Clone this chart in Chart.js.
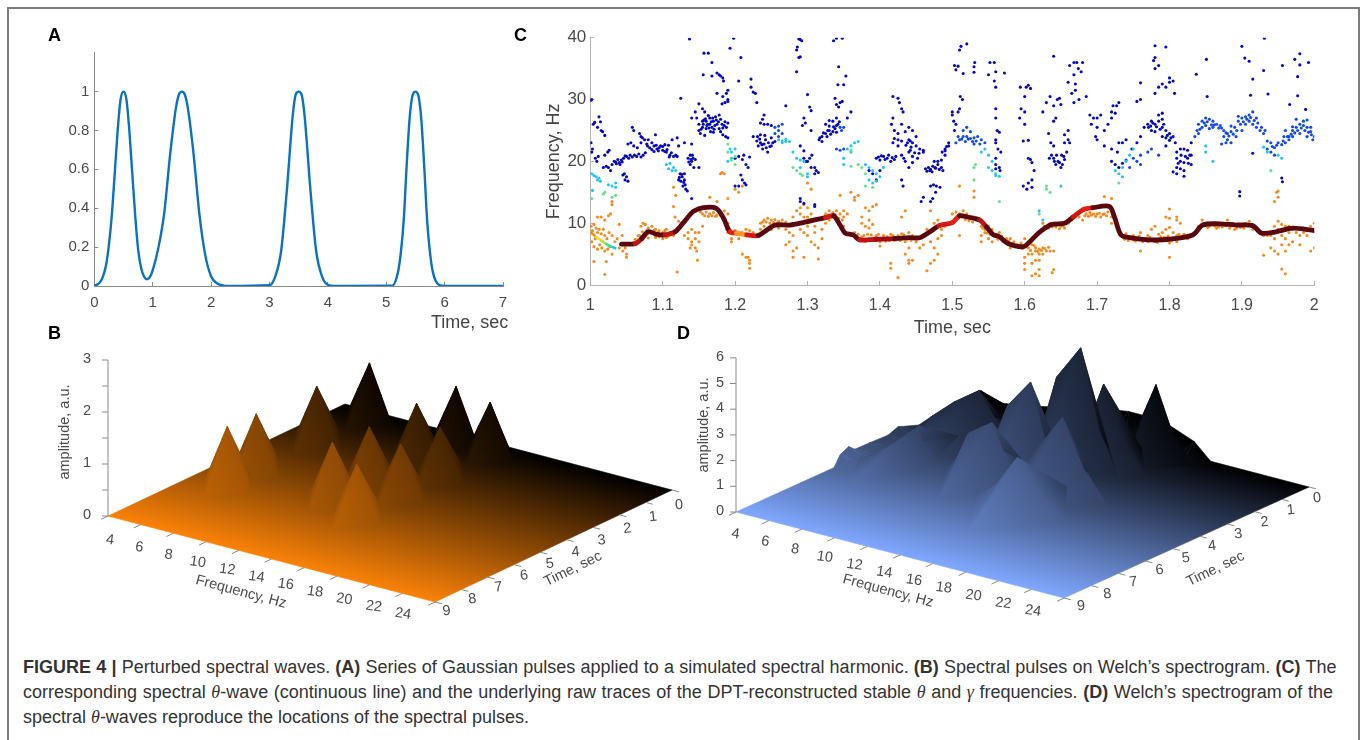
<!DOCTYPE html>
<html><head><meta charset="utf-8">
<script src="https://cdn.jsdelivr.net/npm/chart.js@4"></script>
<style>
html,body{margin:0;padding:0;background:#fff;width:1360px;height:740px;overflow:hidden}
canvas{position:absolute;display:block}
.frame{position:absolute;background:#7d7d7d}
.lab{position:absolute;font:bold 18px "Liberation Sans",Arial,sans-serif;color:#000;line-height:20px}
.cap{position:absolute;left:23px;font:18px "Liberation Sans",Arial,sans-serif;color:#333;white-space:nowrap;line-height:20px}
.cap i{font-family:"Liberation Serif",serif}
.ttl{position:absolute;font:18px "Liberation Sans",Arial,sans-serif;color:#444;white-space:nowrap;line-height:20px}
</style></head><body>
<div class="frame" style="left:7px;top:7px;width:1352px;height:1.5px"></div>
<div class="frame" style="left:7px;top:7px;width:1.5px;height:733px"></div>
<div class="frame" style="left:1358px;top:7px;width:1.5px;height:733px"></div>
<canvas id="a" style="left:40px;top:40px" width="480" height="300"></canvas>
<canvas id="c" style="left:530px;top:20px" width="810" height="320"></canvas>
<canvas id="b" style="left:40px;top:340px" width="660" height="300"></canvas>
<canvas id="d" style="left:680px;top:340px" width="660" height="300"></canvas>
<div class="lab" style="left:48px;top:25px">A</div>
<div class="lab" style="left:48px;top:323px">B</div>
<div class="lab" style="left:514px;top:25px">C</div>
<div class="lab" style="left:677px;top:323px">D</div>
<div class="ttl" style="left:431px;top:312px">Time, sec</div>
<div class="cap" style="top:657px;word-spacing:.2px"><b>FIGURE 4 |</b> Perturbed spectral waves. <b>(A)</b> Series of Gaussian pulses applied to a simulated spectral harmonic. <b>(B)</b> Spectral pulses on Welch’s spectrogram. <b>(C)</b> The</div>
<div class="cap" style="top:682px;word-spacing:.6px">corresponding spectral <i>θ</i>-wave (continuous line) and the underlying raw traces of the DPT-reconstructed stable <i>θ</i> and <i>γ</i> frequencies. <b>(D)</b> Welch’s spectrogram of the</div>
<div class="cap" style="top:707px">spectral <i>θ</i>-waves reproduce the locations of the spectral pulses.</div>
<script>
// ---------- Panel A ----------
const pulseTime=[0,.05,.1,.15,.2,.25,.3,.35,.4,.45,.5,.55,.6,.65,.7,.75,.8,.85,.9,.95,1,1.1,1.2,1.3,1.4,1.45,1.5,1.55,1.6,1.7,1.8,1.9,2,2.1,2.2,2.3,3,3.1,3.2,3.3,3.4,3.45,3.5,3.55,3.6,3.7,3.8,3.9,4,4.1,5.1,5.2,5.25,5.3,5.35,5.4,5.45,5.5,5.55,5.6,5.65,5.7,5.75,5.8,5.9,6,7];
const pulseAmp=[.003,.007,.02,.05,.105,.21,.365,.58,.8,.96,1,.96,.8,.58,.365,.19,.095,.05,.035,.045,.08,.2,.38,.68,.92,.985,1,.985,.92,.68,.37,.16,.05,.014,.003,0,.004,.05,.18,.5,.88,.985,1,.985,.88,.5,.18,.05,.006,0,.001,.07,.17,.34,.62,.86,.98,1,.98,.86,.62,.34,.17,.07,.006,0,0];
// ---------- Panel C ----------
const thetaOnsetT=[1,1.007,1.014,1.021,1.029,1.036];
const thetaOnsetF=[8.6,7.9,7.3,6.7,6.2,5.9];
const thetaOnsetS=[.72,.6,.5,.42,.34,.28];
const thetaT=[1.043,1.062,1.071,1.08,1.092,1.103,1.117,1.128,1.135,1.142,1.156,1.174,1.184,1.193,1.202,1.216,1.232,1.244,1.255,1.276,1.294,1.313,1.325,1.336,1.345,1.352,1.363,1.372,1.395,1.42,1.441,1.455,1.469,1.482,1.5,1.51,1.521,1.538,1.547,1.556,1.565,1.577,1.598,1.607,1.621,1.637,1.655,1.667,1.681,1.694,1.717,1.724,1.733,1.745,1.773,1.8,1.832,1.846,1.869,1.892,1.915,1.927,1.947,1.97,2];
const thetaF=[6.6,6.7,7.5,8.6,8.2,8.1,8.6,10,11,11.9,12.5,12.4,10.8,8.6,8.4,8.1,8,8.9,9.7,9.7,10.1,10.6,10.9,11.2,9.7,8.4,8.1,7.3,7.4,7.5,7.65,7.65,8.6,9.6,10.1,11.2,11,10.5,9.4,8.2,7.8,6.7,6.2,7,8.6,9.8,10,11,12.2,12.5,12.7,11,8.1,7.65,7.3,7.4,8.1,9.7,9.9,9.7,9.6,8.4,8.6,9.2,8.8];
const thetaS=[1,.92,1,1,1,.92,1,1,1,1,1,1,1,.88,.8,.9,1,1,1,1,1,1,.9,1,1,1,1,.92,.95,1,1,1,1,.9,.88,1,1,.92,1,1,1,1,1,1,1,1,1,.9,.88,1,1,1,1,1,1,1,1,1,1,1,1,1,1,1,1];
const gammaDeep=[1.001,23,1.003,22,1.002,21.5,1.004,26,1.006,26.3,1.01,25.5,1.012,27.2,1.014,26.4,1.015,25,1.017,24.8,1.02,24.2,1.007,20.5,1.009,20,1.011,20.8,1.001,29.9,1.002,30,1.02,21,1.024,21.5,1.026,21.8,1.018,19,1.022,19.2,1.025,19,1.028,18.5,1.03,19.5,1.033,20,1.036,19.6,1.04,19.8,1.043,20.2,1.046,20.5,1.05,20.8,1.053,20.5,1.045,17.8,1.048,17,1.05,17.5,1.047,18,1.052,16.8,1.058,25.5,1.06,25,1.068,24.5,1.07,24,1.072,23.8,1.052,22.8,1.056,23,1.06,22.5,1.065,22.2,1.07,23,1.075,23.5,1.078,22.8,1.08,23.5,1.085,23,1.09,24.3,1.088,22.5,1.092,22,1.095,22.2,1.1,21.8,1.103,22.7,1.108,22.6,1.105,21.5,1.11,21,1.115,20.8,1.118,21,1.113,23.5,1.12,23.8,1.12,20.8,1.122,17,1.125,16.8,1.127,17.5,1.13,17,1.128,16,1.132,15.5,1.134,15.2,1.13,18,1.124,18,1.135,20.5,1.138,21,1.14,20,1.142,20.5,1.138,19.5,1.143,19,1.145,20.3,1.15,19,1.122,22.5,1.13,23,1.14,22.8,1.14,14,1.125,30.2,1.137,39.8,1.198,39.9,1.208,36.8,1.157,37.5,1.163,37.5,1.168,36,1.156,34,1.168,33.8,1.175,34.3,1.178,34,1.18,33.8,1.183,33.5,1.184,33,1.175,31,1.183,30.5,1.188,31,1.19,30,1.186,29.5,1.182,29.3,1.19,29.7,1.19,31.5,1.193,38.3,1.205,33,1.222,33.3,1.222,32,1.225,31.2,1.228,31,1.23,29.5,1.15,29.3,1.155,28.5,1.158,28,1.145,28,1.14,27,1.147,27,1.155,26.5,1.15,26,1.15,25,1.152,24.5,1.155,25.5,1.158,24.2,1.16,26.5,1.162,26,1.165,27,1.165,26,1.168,25.5,1.17,26.5,1.172,25.8,1.175,26,1.178,25.3,1.18,26.8,1.182,26,1.185,25.8,1.188,25.5,1.19,26.2,1.16,25.3,1.166,24.8,1.17,24.7,1.173,27.2,1.163,27.4,1.157,26.7,1.178,27.5,1.18,24.8,1.183,24.3,1.187,24,1.19,23.8,1.2,20.5,1.205,20.8,1.21,20.3,1.212,21,1.215,19.5,1.218,19,1.22,20.7,1.208,17.8,1.21,17,1.213,16.5,1.205,16,1.215,16.2,1.2,16,1.225,24,1.23,23.3,1.235,23,1.232,22.5,1.238,22,1.24,22.8,1.242,23.5,1.235,24.3,1.245,21.5,1.25,22.5,1.255,23.2,1.25,23.8,1.24,27.5,1.238,26.8,1.235,26.2,1.24,26,1.245,26,1.25,25.8,1.27,29,1.288,39.8,1.29,39.7,1.292,39.5,1.286,38.5,1.285,38,1.288,36.8,1.29,36.9,1.285,34.5,1.3,30.8,1.303,28.8,1.305,28.2,1.295,27,1.297,26.2,1.293,25.8,1.305,25,1.29,22.5,1.295,21.7,1.295,20.5,1.298,20,1.3,20,1.303,20.5,1.306,21,1.305,19,1.31,19,1.312,18.5,1.315,18.2,1.31,18,1.29,14,1.29,13.5,1.295,13.2,1.31,13,1.31,12.7,1.316,23.5,1.32,24,1.32,23.2,1.325,24.5,1.327,24,1.33,25,1.33,25.7,1.335,24.8,1.338,25.3,1.34,25.8,1.342,26,1.335,26.5,1.34,27,1.325,26,1.33,26.6,1.34,29.2,1.345,29.5,1.348,29.7,1.343,28.8,1.338,30.2,1.342,32.4,1.35,32.4,1.353,33.8,1.343,35.3,1.336,39.5,1.34,39.9,1.348,39.9,1.36,28,1.355,27,1.395,20.5,1.4,20.2,1.405,20.8,1.41,20.5,1.415,20,1.42,20.3,1.418,23,1.42,23.7,1.425,23.5,1.43,23.3,1.425,22.5,1.43,21,1.433,20.5,1.435,20,1.44,21.5,1.44,23.5,1.445,23,1.45,22.5,1.455,22,1.46,21.8,1.443,22.3,1.418,30.5,1.425,30.2,1.427,29.5,1.43,28.5,1.432,28,1.418,27,1.416,26,1.42,25,1.43,26,1.44,25.5,1.445,25,1.45,24,1.425,24.5,1.435,24.8,1.43,17,1.432,16,1.395,17,1.39,18,1.385,18.5,1.4,18.5,1.442,21.8,1.445,20.8,1.445,19.8,1.44,19,1.452,20.5,1.46,21.5,1.463,18.8,1.467,19,1.47,18.7,1.472,18.3,1.476,19,1.48,19.5,1.485,19,1.475,20,1.48,20,1.485,20.2,1.486,21.5,1.49,22,1.49,21.7,1.495,22.5,1.495,23,1.487,18.5,1.47,16,1.474,16.2,1.478,16,1.483,15.8,1.457,13.5,1.46,14.2,1.477,15,1.473,14,1.47,13.5,1.512,38.6,1.52,39,1.51,38,1.503,35.5,1.508,35.4,1.505,34.8,1.515,34.2,1.53,34.4,1.53,35.3,1.531,36,1.55,34,1.552,36,1.558,36,1.56,34.5,1.558,33,1.572,34.3,1.56,32,1.511,30.5,1.514,30,1.5,28,1.502,26.5,1.505,26,1.508,28,1.51,28.5,1.5,27.5,1.503,25,1.56,28.5,1.56,27,1.565,24.7,1.562,25,1.56,23.5,1.56,23,1.563,22,1.567,21.5,1.56,20.5,1.56,19.5,1.565,19,1.566,18.5,1.56,18.8,1.594,32,1.6,30.5,1.602,32,1.605,32.3,1.608,31.8,1.595,28.5,1.6,28,1.593,27,1.6,26,1.598,23.3,1.605,23.4,1.605,20.5,1.608,20.3,1.61,19.8,1.598,16,1.605,16.5,1.61,17,1.603,15.5,1.61,15.8,1.613,18.5,1.63,29.5,1.635,30.5,1.64,29,1.645,30,1.648,30.2,1.65,29.2,1.643,27,1.64,26.5,1.625,28,1.633,24.5,1.636,23,1.634,20.5,1.637,21,1.64,20.5,1.643,19.5,1.646,20,1.65,19,1.652,19.5,1.655,20.3,1.658,21.5,1.655,23,1.66,23.5,1.662,23,1.655,24.3,1.64,22.5,1.66,25,1.665,31,1.67,31.5,1.675,30,1.668,29.5,1.668,36,1.672,36,1.674,35,1.668,34,1.678,34.5,1.68,36,1.685,30.5,1.67,32.5,1.66,32.8,1.662,35.5,1.64,37,1.69,27.5,1.695,27,1.7,27,1.705,27.5,1.692,26,1.7,25.5,1.71,25,1.715,26,1.72,27,1.725,27.8,1.727,29,1.73,29.5,1.72,28,1.722,29,1.698,24,1.7,23.5,1.71,22.5,1.72,22,1.73,23,1.735,23,1.74,23.5,1.728,21.5,1.725,19.5,1.73,19,1.72,20,1.735,19.7,1.755,23,1.748,22,1.76,24,1.765,25.5,1.77,26,1.775,26.5,1.78,26,1.785,26.5,1.79,25.5,1.795,25,1.8,24.5,1.805,24,1.785,27.5,1.79,26.8,1.775,25,1.78,24.8,1.79,24,1.795,23.8,1.8,23.4,1.795,22.5,1.808,23,1.755,29.7,1.76,30,1.795,32,1.78,31,1.785,32,1.79,32.5,1.8,33.5,1.8,32.8,1.805,33,1.78,35,1.778,36.3,1.78,36.8,1.785,35.5,1.78,38.7,1.795,38.5,1.807,31,1.79,27.8,1.76,32.7,1.81,21.5,1.815,22,1.82,22,1.825,21.8,1.81,20.5,1.815,20,1.82,19.8,1.825,20.5,1.828,21,1.83,19.5,1.82,18.5,1.815,18.8,1.81,19,1.805,18.3,1.81,18,1.82,17.6,1.83,23,1.83,21,1.931,39.9,1.9,38.6,1.904,36.7,1.91,36.2,1.93,34.7,1.956,35.5,1.973,36.5,1.98,37.4,1.992,36,1.98,35.6,1.977,33.7,1.915,33.3,1.936,30.9,1.912,30.7,1.977,30.6,1.966,29.2,1.988,28.4,1.851,36.5,1.837,34.1,1.852,30.5,1.897,15.1,1.897,14.4,1.915,21.3,1.955,17.3,1.956,16.7,
1.035,19.9,1.038,20.3,1.041,19.5,1.044,19.9,1.048,20.9,1.055,21,1.058,20.7,1.061,21,1.064,20.8,1.067,21.2,1.07,20.7,1.073,21,1.076,21.4,1.079,22.5,1.082,22.2,1.085,21.9,1.088,21.6,1.091,22.6,1.094,21.7,1.097,22.5,1.1,22.4,1.103,21.6,1.106,21.9,1.109,20.7,1.112,21.4,1.123,17.4,1.126,17.9,1.129,16.6,1.131,16.2,1.136,19.9,1.139,20.3,1.141,21,1.153,25.2,1.156,26,1.159,26.9,1.161,25.8,1.164,25.4,1.167,26.4,1.169,27,1.171,25.2,1.174,26.7,1.177,26.4,1.183,25.4,1.186,26.4,1.231,24,1.234,23.6,1.237,22.7,1.241,24.2,1.243,22.2,1.246,23,1.248,22.4,1.252,23,1.317,23.8,1.322,24.6,1.328,25,1.332,24.4,1.336,25.6,1.34,24.7,1.344,26.4,1.398,20.7,1.402,20.9,1.407,20.3,1.412,21,1.417,20.6,1.422,20.8,1.436,22.6,1.438,23,1.442,23.3,1.448,21.4,1.454,21.3,1.465,18.4,1.469,18.5,1.473,19.2,1.477,18.9,1.482,18.7,1.49,21,1.492,22.4,1.641,20,1.644,21,1.648,19.8,1.651,21,1.654,20.8,1.771,25.5,1.774,25.7,1.777,26.2,1.782,25.6,1.787,25.2,1.792,26,1.797,24.2,1.802,23.8,1.816,21,1.822,20.8,1.826,19.7,1.812,19.7];
const gammaBright=[1.255,24.5,1.26,25,1.26,24,1.265,24.5,1.255,25.5,1.26,25.7,1.265,26,1.345,25.5,1.347,25,1.35,25.5,1.34,22,1.345,21.8,1.35,22,1.505,23,1.51,23.5,1.515,24,1.52,24,1.525,23.7,1.53,23.8,1.535,24,1.54,23.5,1.545,23,1.515,25,1.52,25.5,1.525,24.8,1.53,22.8,1.74,20.2,1.745,19,1.75,20.5,1.755,20,1.76,19.5,1.76,21,1.77,21.5,1.775,22,1.785,21,1.835,24,1.838,25,1.84,26,1.845,26.5,1.85,27,1.855,26.8,1.86,26.5,1.84,24.5,1.845,25.5,1.85,25.8,1.855,25.3,1.86,25.5,1.865,26,1.87,25.8,1.875,25,1.88,24.5,1.885,24.8,1.875,24,1.88,23.5,1.885,23,1.872,22.8,1.878,23,1.89,25.5,1.895,26.5,1.9,27,1.905,27.2,1.91,27.5,1.915,28,1.895,27.3,1.905,26,1.91,26.5,1.915,26,1.92,25.5,1.925,25,1.93,24.5,1.9,25,1.892,24,1.885,25.7,1.92,27,1.965,24,1.97,25,1.975,25.5,1.98,26,1.985,25.8,1.99,25.5,1.995,24.8,2,24,1.998,23.5,1.96,23,1.965,23.5,1.97,24,1.955,22.7,1.95,23,1.945,22.2,1.975,26.8,1.985,26.5,1.99,26.7,1.995,25.5,1.98,24.5,1.99,24,1.96,25,1.958,24,1.935,22,1.94,21.5,1.945,21,1.94,23,1.935,23.3,
1.842,25.2,1.848,26.2,1.852,26.4,1.858,25.9,1.862,25.9,1.868,25.4,1.872,25.4,1.878,24.6,1.882,24.1,1.888,24.4,1.893,25,1.898,26,1.902,26.4,1.907,26.8,1.912,27.1,1.917,26.6,1.922,26.2,1.927,25.5,1.932,25,1.97,25.6,1.973,24.6,1.977,25,1.982,25.4,1.987,25,1.992,24.7,1.996,24.3,1.968,24.4,1.963,24,1.957,23.3,1.948,22.6,1.942,22.4,1.508,24,1.513,23.6,1.518,23.2,1.522,23.6,1.528,23.2,1.533,23.3,1.538,22.8];
const gammaCyan=[1.002,18,1.005,17.7,1.008,17.5,1.01,17,1.012,17.3,1.014,16.8,1.03,16,1.035,16.5,1.035,15.8,1.003,15.3,1.025,16.2,1.105,19.5,1.108,18.8,1.11,19.7,1.113,18.5,1.115,19,1.118,18.5,1.19,20,1.193,22,1.195,21.5,1.2,22,1.195,20.5,1.26,23.5,1.265,23.3,1.27,23.2,1.265,23,1.27,23.6,1.275,23.2,1.28,21.5,1.285,20.5,1.29,20.2,1.295,20,1.29,19,1.3,18,1.3,17.5,1.355,22,1.36,22.5,1.365,23,1.37,23.2,1.36,21.5,1.35,20.5,1.35,19.5,1.38,19.5,1.385,19,1.39,18.5,1.395,18,1.4,17.5,1.385,17,1.39,16.5,1.395,16.8,1.405,19,1.54,21.5,1.545,22,1.55,21,1.555,20,1.55,19,1.555,18.5,1.56,18,1.56,17.7,1.565,17.6,1.65,16,1.62,12,1.625,10.5,1.725,18.5,1.73,18,1.735,19,1.74,20,1.745,21,1.75,22,1.735,17.5,1.93,22.3,1.935,21.5,1.95,21,1.955,20.5,1.85,22.5,1.85,21.5,1.86,20];
const gammaGreen=[1.02,15,1.018,14.7,1.03,14.2,1.035,14.5,1.002,14,1.19,21.5,1.19,22.8,1.195,20.2,1.2,19.5,1.2,20.8,1.285,18.5,1.28,19,1.29,18,1.293,17.7,1.36,21.8,1.36,19.2,1.37,19.5,1.375,19,1.38,18,1.39,15.8,1.38,16,1.53,19,1.532,19.5,1.53,17,1.63,15.5,1.635,15,1.63,16,1.565,13.5,1.73,16.5,1.94,18.5,1.62,11.5];
const thetaRaw=[1.001,9.5,1.003,8.8,1.005,9.8,1.008,9.2,1.01,8.5,1.012,9,1.015,8.3,1.018,9,1.02,8,1.023,7.5,1.026,8.5,1.03,8,1.034,7,1.037,7.5,1.04,9.8,1.002,7,1.005,6.2,1.007,7.5,1.01,5.8,1.013,6.5,1.016,6,1.02,5.5,1.024,5.8,1.027,6.2,1.03,5,1.022,3.8,1.02,10.5,1.025,11.2,1.028,11.5,1.03,13,1.03,13.5,1.015,11,1.01,11,1.005,3.8,1.02,1.7,1.04,6,1.045,5.5,1.05,4.5,1.05,5,1.048,6,1.044,8,1.068,8,1.07,9.5,1.073,10,1.076,9.8,1.08,9.2,1.085,9.5,1.09,9,1.095,8.8,1.1,8.5,1.105,9,1.11,8.5,1.07,7.5,1.075,7.8,1.08,7.6,1.09,7.7,1.095,7.8,1.1,7.5,1.105,7.7,1.115,8,1.12,9.2,1.122,10.3,1.12,2.1,1.115,15.8,1.118,14.5,1.115,12.7,1.117,11,1.13,8,1.135,8.5,1.14,9,1.145,8.5,1.135,7.5,1.14,7,1.145,7.5,1.14,6.5,1.145,6,1.147,5.5,1.138,6,1.15,7,1.148,4,1.15,8.5,1.155,9.5,1.15,12.5,1.155,11.5,1.16,11.8,1.165,11.5,1.17,11.7,1.175,11.3,1.18,11.5,1.185,12,1.19,10,1.19,11.5,1.188,9,1.165,14.2,1.175,13.5,1.19,14,1.185,18,1.18,18,1.182,18.2,1.2,15.5,1.205,15,1.21,16,1.195,7,1.195,7.5,1.19,8.5,1.2,8.8,1.21,8.5,1.215,9,1.22,8.8,1.225,8.5,1.205,7.5,1.21,5,1.215,4.5,1.22,4,1.22,3.5,1.22,2.7,1.218,4.5,1.235,10,1.24,10.5,1.24,9.5,1.245,10.8,1.25,10.5,1.255,10.6,1.26,10.3,1.265,10.5,1.27,10.2,1.235,9,1.25,9,1.26,9.2,1.27,9,1.275,8.5,1.28,8,1.27,6.5,1.275,7,1.28,5.5,1.285,6,1.28,4.5,1.285,12,1.29,12.5,1.295,13,1.3,12.5,1.29,11.5,1.295,11,1.3,11,1.305,11.5,1.28,11,1.285,10,1.29,9,1.295,8.5,1.3,8,1.305,7,1.3,9.5,1.31,8.5,1.31,9.5,1.32,9,1.315,6,1.315,4.2,1.295,4.5,1.305,15.5,1.3,16.5,1.31,6.5,1.32,7.5,1.325,11.5,1.33,12,1.335,11.7,1.34,12,1.345,11.5,1.35,11,1.35,12,1.355,11.5,1.325,10,1.33,10.5,1.345,14.5,1.35,9.5,1.36,8,1.365,8.5,1.37,8.2,1.375,7.8,1.38,7,1.385,7.5,1.39,7.2,1.395,8,1.4,7,1.405,8,1.41,7.8,1.415,8.2,1.42,7.2,1.425,8,1.43,8.3,1.435,7,1.44,8.5,1.445,8,1.375,10,1.38,9.5,1.385,9.2,1.39,9.8,1.38,12.5,1.385,12,1.39,12.7,1.395,13,1.375,11,1.385,10.5,1.36,15,1.365,14.2,1.37,14.5,1.365,13.7,1.4,6.3,1.415,3.5,1.415,2.7,1.44,3.5,1.435,5,1.44,4,1.44,6,1.43,11,1.435,12,1.425,1.2,1.45,7,1.46,8,1.465,9,1.47,8.5,1.475,10,1.48,10.5,1.485,9,1.49,9.5,1.455,6,1.46,6.5,1.47,7,1.475,6,1.48,7.5,1.485,8,1.48,5,1.475,4,1.47,3.5,1.465,2.3,1.445,4,1.47,12,1.5,11.5,1.505,11.8,1.51,11.5,1.515,12,1.52,11.5,1.525,11,1.53,11,1.535,10.5,1.54,9.5,1.545,9,1.55,9.5,1.555,9,1.54,8,1.545,8.5,1.55,7.5,1.555,7,1.56,8,1.565,8.5,1.57,7,1.575,7.5,1.58,7.5,1.585,7,1.59,6.5,1.595,6.8,1.6,7.5,1.58,6,1.54,7,1.53,15.2,1.53,14.2,1.51,8,1.51,16,1.605,6,1.61,6.5,1.615,6,1.62,5.8,1.625,6,1.63,5.5,1.635,5.5,1.605,5,1.61,5,1.615,5.5,1.62,5,1.625,5,1.6,4.5,1.6,3.5,1.6,2.5,1.61,3.5,1.615,4,1.62,4,1.615,1.8,1.62,2.5,1.62,1.5,1.61,1.5,1.64,2.5,1.638,2,1.64,5.5,1.625,10,1.63,9.5,1.635,10,1.64,10,1.645,9.7,1.65,9.5,1.655,9.2,1.66,10,1.665,10.5,1.67,11,1.675,11,1.68,10.5,1.685,11.5,1.69,11.7,1.695,11.5,1.7,11.5,1.705,11,1.71,11.5,1.715,11.8,1.72,11,1.72,10,1.725,10.5,1.71,14.3,1.72,14,1.735,7.8,1.74,8.3,1.745,7.5,1.75,7.3,1.76,7.5,1.77,7,1.78,7,1.79,7.2,1.8,6.8,1.81,7,1.75,8,1.76,8.5,1.77,8,1.775,9,1.78,9.5,1.785,8.2,1.79,8.5,1.795,9,1.8,9.3,1.805,8.5,1.81,8,1.815,10,1.81,11,1.81,10.5,1.8,10.8,1.82,8.2,1.825,7.5,1.83,8,1.835,8.5,1.76,5.5,1.8,12.3,1.8,4.5,1.795,11,1.84,9.5,1.845,10.5,1.85,10,1.855,9.5,1.86,10,1.865,9.2,1.87,9.7,1.875,10,1.88,10.5,1.885,9.5,1.89,9,1.895,10,1.9,9.5,1.905,10,1.91,10.3,1.915,9,1.92,9,1.93,8,1.935,8,1.94,8,1.945,7.5,1.95,9,1.955,8,1.96,7.5,1.965,8.5,1.945,9.5,1.95,10.3,1.955,9.8,1.96,9.5,1.965,9.5,1.97,9,1.975,8.5,1.98,8,1.985,8.5,1.99,8,1.995,9.5,2,10,1.94,6,1.945,5.5,1.955,6.5,1.96,5.5,1.965,6.5,1.97,7,1.95,5,1.93,4.8,1.945,13.5,1.948,15,1.95,15.2,1.95,14.2,1.955,2.6,1.96,1.8,1.995,5.5,2,6,1.98,6.5,
1.062,7.4,1.066,8,1.072,8.6,1.078,8.8,1.083,8.4,1.088,8.9,1.093,8.5,1.098,8.2,1.103,8.8,1.108,7.9,1.152,11.8,1.158,11.2,1.163,11.1,1.168,11.2,1.173,11.1,1.178,11.8,1.183,11,1.186,10.6,1.238,10.2,1.243,10.2,1.248,10,1.253,10.1,1.258,10,1.263,9.9,1.268,9.8,1.328,11.3,1.333,10.9,1.338,11.4,1.343,10.8,1.348,10.5,1.378,8,1.383,8.2,1.388,8.1,1.393,7.6,1.398,8.2,1.403,7.4,1.408,7.1,1.413,7.2,1.418,8,1.423,7.3,1.428,7.2,1.433,8.1,1.438,7.4,1.443,7.2,1.508,10.8,1.513,11,1.518,10.6,1.523,10.4,1.528,10.2,1.542,9.2,1.548,8.4,1.552,8.2,1.558,7.9,1.563,7.4,1.568,7.9,1.573,6.9,1.578,7.1,1.583,6.5,1.588,6.2,1.593,6.2,1.597,5.9,1.603,6.2,1.608,5.6,1.613,6.4,1.618,5.4,1.623,5.6,1.628,5.9,1.633,6.1,1.627,9.5,1.633,9.2,1.638,9.4,1.643,9.4,1.648,9.1,1.653,9.5,1.683,11.2,1.688,11.1,1.692,11.3,1.698,11.1,1.703,11.6,1.708,11.4,1.713,11.2,1.738,7.4,1.743,7.2,1.748,7.6,1.753,7.1,1.758,7.9,1.763,7,1.768,7.4,1.773,7.7,1.783,6.9,1.788,7.8,1.793,7.7,1.798,7.9,1.803,7.2,1.808,7.5,1.813,8.2,1.818,7.6,1.848,9.7,1.853,9.3,1.858,9.8,1.863,9.5,1.868,9.4,1.873,9.4,1.878,9.6,1.883,9.2,1.888,9.6,1.893,9.2,1.898,9.3,1.903,9.2,1.908,9.6];
// ---------- Panels B and D: spectral peaks on the (frequency, time) plane ----------
const freqTicks=[4,6,8,10,12,14,16,18,20,22,24];
const timeTicks=[0,1,2,3,4,5,6,7,8,9];
const bFreq=[6.3,6.3,6.3,6.3,11.6,11.6,11.6,11.6,14,14,14,14];
const bTime=[.5,2.5,4.8,5.9,.5,2,3.8,5.2,.7,2.6,4.1,5.76];
const bAmp=[1.1,1.13,1.15,1.17,1.09,1.12,1.1,1.14,1.03,1,1.04,1.04];
const bFreqWidth=[1.4,1.4,1.4,1.4,1.4,1.4,1.4,1.4,1.4,1.4,1.4,1.4];
const bTimeWidth=[.9,.9,.9,.9,.9,.9,.9,.9,.9,.9,.9,.9];
// D: each structure is a crest of (frequency, time, amplitude) vertices with its foot points
const dCrests=[
 [[15.5,.5,2.8]],
 [[14.3,1.7,3.2]],
 [[12.1,2.1,3.3],[13.4,2,4.6]],
 [[5.3,2.6,.85],[6.2,2.3,1.43],[7.2,2,1.9]],
 [[11.1,3.3,2.6],[12.4,3.24,3.7]],
 [[13.4,3.7,1.36],[15.1,3.7,3]],
 [[10,4.07,1.7],[11.3,4,2.3]],
 [[6,4.6,.75],[6.2,3.6,1.12]],
 [[14.6,5.05,2]]];
const dFootWest=[[13.3,.5],[12.3,1.7],[10.3,2.1],[4.2,2.8],[9.2,3.3],[11.8,3.7],[8.6,4.07],[4.2,4.6],[12,5.05]];
const dFootEast=[[17.6,.5],[16.8,1.7],[15.6,2],[9.8,2],[14.4,3.24],[17.9,3.7],[13.4,4],[7.6,4.1],[17.5,5.05]];
const dFootTime=[1.2,1.4,1.4,1.4,1.5,1.5,1.5,1.5,1.8];
const dEdgeTime=[5.4,5.18,4.87,4.64,4.11,3.42,3.05,2.28,1.84,.99,.07,0];
const dEdgeAmp=[0,.39,.56,.35,.34,.31,.46,.16,.27,.44,.44,.4];
const dBackFreq=[4,5,7,9,11,13,15,17,18];
const dBackAmp=[.4,.1,.3,.6,.9,1.1,1.1,.6,0];

Chart.defaults.animation=false;
Chart.defaults.font.family='"Liberation Sans",Arial,sans-serif';
const axisGrey='#8a8a8a', textGrey='#4a4a4a';
const pts=(xs,ys)=>xs.map((x,i)=>({x,y:ys[i]}));
const pairs=l=>{const o=[];for(let i=0;i<l.length;i+=2)o.push({x:l[i],y:l[i+1]});return o;};
const fixW=w=>s=>{s.width=w;s.paddingTop=0;s.paddingBottom=0;}, fixH=h=>s=>{s.height=h;};
const num=v=>+(+v).toFixed(1);

new Chart(document.getElementById('a'),{type:'scatter',data:{datasets:[{data:pts(pulseTime,pulseAmp),showLine:true,borderColor:'#0a72c2',borderWidth:2.4,pointRadius:0,tension:.35,cubicInterpolationMode:'monotone'}]},
options:{responsive:false,layout:{padding:{top:12.7,right:17,left:0,bottom:0}},plugins:{legend:{display:false},tooltip:{enabled:false}},
scales:{x:{type:'linear',min:0,max:7,afterFit:fixH(54),border:{color:axisGrey},grid:{drawOnChartArea:false,color:axisGrey,tickLength:-4},ticks:{stepSize:1,color:textGrey,padding:12,font:{size:15},maxRotation:0}},
y:{min:0,max:1.2,afterFit:fixW(54.3),border:{color:axisGrey},grid:{drawOnChartArea:false,color:axisGrey,tickLength:-4},ticks:{stepSize:.2,color:textGrey,padding:9,font:{size:15},callback:v=>v>1.001?null:num(v)}}}}});

const stabColor=s=>{ // colour ramp of the stability measure
  const st=[[.28,[30,110,240]],[.34,[30,200,235]],[.42,[60,225,150]],[.5,[170,230,60]],[.6,[240,225,40]],[.72,[245,140,30]],[.8,[250,150,40]],[.88,[230,30,20]],[.95,[160,12,18]],[1,[90,8,14]]];
  for(let i=1;i<st.length;i++) if(s<=st[i][0]){const[a,ca]=st[i-1],[b,cb]=st[i],k=(s-a)/(b-a);return `rgb(${ca.map((c,j)=>Math.round(c+(cb[j]-c)*k)).join(',')})`;}
  return 'rgb(90,8,14)';};
const dots=(l,c)=>({data:pairs(l),backgroundColor:c,borderWidth:0,pointRadius:1.55,showLine:false});
new Chart(document.getElementById('c'),{type:'scatter',data:{datasets:[
 {data:pts(thetaT,thetaF),showLine:true,borderWidth:4.8,pointRadius:0,tension:.3,borderCapStyle:'round',borderJoinStyle:'round',segment:{borderColor:x=>stabColor(thetaS[x.p0DataIndex])}},
 {data:pts(thetaOnsetT,thetaOnsetF),showLine:true,borderWidth:2.6,pointRadius:0,tension:.3,segment:{borderColor:x=>stabColor(thetaOnsetS[x.p0DataIndex])}},
 dots(gammaGreen,'#66e08a'),dots(gammaCyan,'#26c4f0'),dots(gammaBright,'#1248ee'),dots(gammaDeep,'#0408c4'),dots(thetaRaw,'#f58a20')]},
options:{responsive:false,layout:{padding:{top:17.7,right:25.7,left:0,bottom:0}},plugins:{legend:{display:false},tooltip:{enabled:false}},
scales:{x:{type:'linear',min:1,max:2,afterFit:fixH(55),border:{color:'#b5b5b5'},grid:{drawOnChartArea:false,color:'#b5b5b5',tickLength:-4},ticks:{stepSize:.1,autoSkip:false,color:textGrey,padding:15,font:{size:16},maxRotation:0,callback:num},title:{display:true,text:'Time, sec',color:'#444',font:{size:18},padding:{top:0,bottom:1}}},
y:{min:0,max:40,afterFit:fixW(60.3),border:{color:'#b5b5b5'},grid:{drawOnChartArea:false,color:'#b5b5b5',tickLength:-4},ticks:{stepSize:10,color:textGrey,padding:8,font:{size:17}},title:{display:true,text:'Frequency, Hz',color:'#444',font:{size:18},padding:{top:13,bottom:0}}}}}});

// ---------- 3D panels: each facet is a dataset of projected corners placed by the scales ----------
const geoOf={};
const facetPlugin={id:'facet',beforeDatasetDraw(chart,args){
  const ds=chart.data.datasets[args.index]; if(!ds.tvals) return;
  const c=chart.ctx, e=args.meta.data, o=geoOf[chart.canvas.id];
  const col=t=>{const k=Math.max(0,Math.min(1,t/9));return `rgb(${o.front.map(v=>Math.round(v*k)).join(',')})`;};
  const T=ds.tvals, a=e[1].x-e[0].x,b=e[1].y-e[0].y,p=e[2].x-e[0].x,q=e[2].y-e[0].y,u=T[1]-T[0],v=T[2]-T[0],det=a*q-b*p;
  let style=col(T[0]);
  if(Math.abs(det)>1e-6){const al=(u*q-v*b)/det,be=(a*v-p*u)/det,g=al*al+be*be;
    if(g>1e-9){const lo=Math.min(...T),hi=Math.max(...T);
      const gr=c.createLinearGradient(e[0].x+al*(lo-T[0])/g,e[0].y+be*(lo-T[0])/g,e[0].x+al*(hi-T[0])/g,e[0].y+be*(hi-T[0])/g);
      gr.addColorStop(0,col(lo));gr.addColorStop(1,col(hi));style=gr;}}
  c.save();c.beginPath();e.forEach((m,i)=>i?c.lineTo(m.x,m.y):c.moveTo(m.x,m.y));c.closePath();
  c.fillStyle=style;c.strokeStyle=style;c.lineWidth=.6;c.fill();c.stroke();c.restore();
},afterDraw(chart){
  const o=geoOf[chart.canvas.id], c=chart.ctx, sx=chart.scales.x, sy=chart.scales.y, X=v=>sx.getPixelForValue(v), Y=v=>sy.getPixelForValue(v), P=o.project;
  c.save();c.strokeStyle=axisGrey;c.fillStyle=textGrey;c.lineWidth=1;
  const ln=(a,b,d,e)=>{c.beginPath();c.moveTo(X(a),Y(b));c.lineTo(X(d),Y(e));c.stroke();};
  const txt=(s,x,y,r,f)=>{c.save();c.translate(X(x),Y(y));c.rotate(r*Math.PI/180);c.font=f+'px "Liberation Sans",Arial,sans-serif';c.textAlign='center';c.textBaseline='middle';c.fillText(s,0,0);c.restore();};
  const o0=P(4,9,0), top=P(4,9,o.ampMax); ln(o0[0],o0[1],top[0],top[1]);
  o.ampTicks.forEach(t=>{const q=P(4,9,t);ln(q[0]-6,q[1],q[0],q[1]);});
  o.ampLabels.forEach(t=>{const q=P(4,9,t);txt(String(t),q[0]+o.ampDx,q[1]-1,0,o.tickSize);});
  freqTicks.forEach((f,i)=>{const q=P(f,9,0);ln(q[0],q[1],q[0]-7,q[1]+3.3);const k=i/(freqTicks.length-1);txt(String(f),o.fl[0]+(o.fl[2]-o.fl[0])*k,o.fl[1]+(o.fl[3]-o.fl[1])*k,8,o.tickSize);});
  timeTicks.forEach((t,i)=>{const q=P(24,t,0);ln(q[0],q[1],q[0]+7,q[1]+1.8);const k=i/(timeTicks.length-1);txt(String(t),o.tl[0]+(o.tl[2]-o.tl[0])*k,o.tl[1]+(o.tl[3]-o.tl[1])*k,-6,o.tickSize);});
  txt('Frequency, Hz',o.ft[0],o.ft[1],15,14.5);txt('Time, sec',o.tt[0],o.tt[1],-26,14.5);txt('amplitude, a.u.',o.at[0],o.at[1],-90,14.5);
  c.restore();
}};
function surface(id,box,geo,structures,extra){
  const P=(F,T,A)=>[geo.back[0]+(F-4)/20*geo.fv[0]+T/9*geo.tv[0], geo.back[1]+(F-4)/20*geo.fv[1]+T/9*geo.tv[1]-A*geo.ampPx];
  geoOf[id]=Object.assign({project:P},geo);
  const faces=[[[4,0,0],[24,0,0],[24,9,0],[4,9,0]]];
  if(extra) extra.forEach(f=>faces.push(f));
  const mid=(foot,p)=>[(foot[0]+p[0])/2,(foot[1]+p[1])/2,p[2]*geo.skirt];
  structures.slice().sort((a,b)=>a.crest[0][1]-b.crest[0][1]).forEach(s=>{
    const ch=s.crest, p0=ch[0], pl=ch[ch.length-1], Ts=ch.map(p=>p[1]), Fm=ch.reduce((m,p)=>m+p[0],0)/ch.length;
    const N=[Fm,Math.max(0,Math.min(...Ts)-s.h),0], S=[Fm,Math.max(...Ts)+s.h,0], W=[s.w[0],s.w[1],0], E=[s.e[0],s.e[1],0], Wm=mid(s.w,p0), Em=mid(s.e,pl);
    [N,S].forEach(K=>{faces.push([p0,Wm,K],[Wm,W,K],[pl,Em,K],[Em,E,K]);for(let i=0;i+1<ch.length;i++)faces.push([ch[i],ch[i+1],K]);});
  });
  const datasets=faces.map(f=>({data:f.map(p=>{const q=P(p[0],p[1],p[2]);return{x:q[0],y:q[1]};}),tvals:f.map(p=>p[1]),showLine:false,pointRadius:0})).reverse();
  new Chart(document.getElementById(id),{type:'scatter',data:{datasets},plugins:[facetPlugin],
   options:{responsive:false,layout:{padding:0},plugins:{legend:{display:false},tooltip:{enabled:false}},
   scales:{x:{type:'linear',display:false,min:box[0],max:box[1]},y:{type:'linear',display:false,reverse:true,min:box[2],max:box[3]}}}});
}
surface('b',[40,700,340,640],{back:[345,404],fv:[327,86],tv:[-237,112],ampPx:52,skirt:.5,tickSize:14.5,front:[250,130,8],ampMax:3,ampTicks:[0,.5,1,1.5,2,2.5,3],ampLabels:[0,1,2,3],ampDx:-21,
  fl:[110,540,403,614],tl:[679,505,446.6,611],ft:[241,592],tt:[573,569],at:[65,432]},
  bFreq.map((f,i)=>({crest:[[f,bTime[i],bAmp[i]]],w:[f-bFreqWidth[i],bTime[i]],e:[f+bFreqWidth[i],bTime[i]],h:bTimeWidth[i]})));
const dExtra=[];
for(let i=0;i+1<dEdgeTime.length;i++){const t0=dEdgeTime[i],t1=dEdgeTime[i+1],a0=dEdgeAmp[i],a1=dEdgeAmp[i+1];
  dExtra.push([[4,t0,a0],[4,t1,a1],[6,t1,0]],[[4,t0,a0],[6,t1,0],[6,t0,0]]);}
for(let i=0;i+1<dBackFreq.length;i++){const f0=dBackFreq[i],f1=dBackFreq[i+1],a0=dBackAmp[i],a1=dBackAmp[i+1];
  dExtra.push([[f0,0,a0],[f1,0,a1],[f1,1.4,0]],[[f0,0,a0],[f1,1.4,0],[f0,1.4,0]]);}
surface('d',[680,1340,340,640],{back:[981,401],fv:[328,86],tv:[-245,111],ampPx:25.7,skirt:.36,tickSize:14.5,front:[128,168,255],ampMax:6,ampTicks:[0,1,2,3,4,5,6],ampLabels:[0,1,2,3,4,5,6],ampDx:-16,
  fl:[735.5,534,1033,611],tl:[1317,498,1081,606],ft:[888,591],tt:[1215.6,569],at:[704,425]},
  dCrests.map((c,i)=>({crest:c,w:dFootWest[i],e:dFootEast[i],h:dFootTime[i]})),dExtra);
</script>
</body></html>
